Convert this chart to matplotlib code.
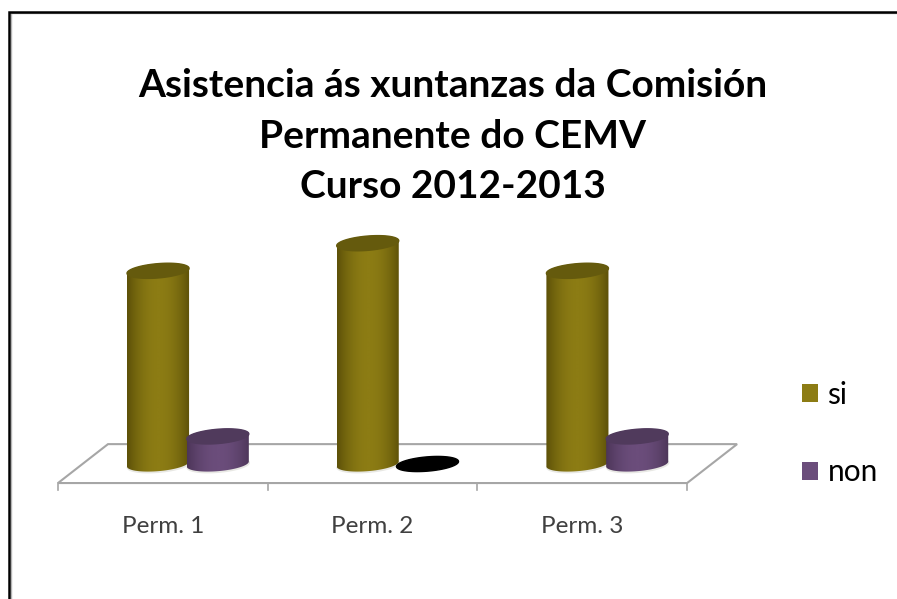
import matplotlib

matplotlib.use("Agg")
import matplotlib.pyplot as plt
import numpy as np
from matplotlib.colors import LinearSegmentedColormap
from matplotlib.patches import Patch, PathPatch, Polygon, Rectangle
from matplotlib.path import Path

categories = ["Perm. 1", "Perm. 2", "Perm. 3"]
si_values = [7, 8, 7]
non_values = [1, 0, 1]
title = "Asistencia ás xuntanzas da Comisión\nPermanente do CEMV\nCurso 2012-2013"

W, H = 897, 599
PX_X = 209.7  # pixels per category
PX_Y = 27.6  # pixels per unit
X0, Y0 = 58, 464  # pixel position of x=0, y=0

RX = 0.148  # cylinder radius
RY = 0.26
SHEAR = 0.09


def rim(cx, cy, t):
    return cx + RX * np.cos(t), cy + RY * np.sin(t) + SHEAR * np.cos(t)


def cylinder(ax, cx, value, light, dark, top):
    if value == 0:
        xs, ys = rim(cx, 0, np.linspace(0, 2 * np.pi, 80))
        ax.fill(xs, ys, color="black", zorder=4)
        return
    xb, yb = rim(cx, 0, np.linspace(np.pi, 2 * np.pi, 50))
    xt, yt = rim(cx, value, np.linspace(0, np.pi, 50))
    verts = np.column_stack([np.r_[xb, xt], np.r_[yb, yt]])
    body = PathPatch(Path(np.vstack([verts, verts[:1]])), fc="none", ec="none", zorder=3)
    ax.add_patch(body)

    # soft contact shadow under the base
    xs, ys = rim(cx, -0.02, np.linspace(0, 2 * np.pi, 80))
    ax.fill(xs + 0.002, ys - 0.02, color="#e8e8e4", zorder=2.5)

    grad = np.abs(np.linspace(-1, 1, 256)) ** 2
    im = ax.imshow(
        (1 - grad)[None, :],
        cmap=LinearSegmentedColormap.from_list("c2", [dark, light]),
        extent=[cx - RX, cx + RX, -1, value + 1],
        aspect="auto",
        zorder=3,
        interpolation="bilinear",
    )
    im.set_clip_path(body)

    xs, ys = rim(cx, value, np.linspace(0, 2 * np.pi, 80))
    ax.fill(xs, ys, color=top, zorder=3.5)


def main():
    fig = plt.figure(figsize=(W / 100, H / 100), dpi=100)
    ax = fig.add_axes([0, 0, 1, 1])
    ax.set_xlim(-X0 / PX_X, (W - X0) / PX_X)
    ax.set_ylim(-(H - Y0) / PX_Y, Y0 / PX_Y)
    ax.axis("off")

    font = ["Lato", "DejaVu Sans"]
    n = len(categories)

    # floor of the 3d plot
    front, back = -0.69, 0.72
    depth = 50 / PX_X
    ax.add_patch(
        Polygon(
            [(0, front), (n, front), (n + depth, back), (depth, back)],
            closed=True,
            fc="white",
            ec="#a6a6a6",
            lw=1.5,
            zorder=1,
        )
    )
    for i in range(n + 1):
        ax.plot([i, i], [front, front - 0.27], color="#a6a6a6", lw=1.2, zorder=1)

    for i in range(n):
        cylinder(ax, i + 0.477, si_values[i], "#8c7c14", "#5c5008", "#655a0d")
        cylinder(ax, i + 0.762, non_values[i], "#6b4d7b", "#4c3558", "#503a5c")
        ax.text(
            i + 0.5,
            -2.25,
            categories[i],
            ha="center",
            va="center",
            fontsize=17.5,
            family=font,
            color="#404040",
        )

    fig.text(
        0.505,
        1 - 136 / H,
        title,
        ha="center",
        va="center",
        fontsize=28,
        fontweight="bold",
        family=font,
        color="black",
        linespacing=1.55,
    )

    handles = [Patch(fc="#8c7c14", ec="none", label="si"), Patch(fc="#6b4d7b", ec="none", label="non")]
    ax.legend(
        handles=handles,
        loc="center left",
        bbox_to_anchor=(802 / W, 1 - 433.5 / H),
        bbox_transform=fig.transFigure,
        frameon=False,
        prop={"family": font, "size": 21.5},
        handlelength=0.55,
        handleheight=0.55,
        handletextpad=0.3,
        labelspacing=1.67,
        borderpad=0,
        borderaxespad=0,
    )

    # black frame round the picture, with the thin grey edge inside it
    fig.add_artist(Rectangle((11.4 / W, -0.01), 1, 1 - 13 / H + 0.01, transform=fig.transFigure,
                             fc="none", ec="#b4b4b4", lw=1.0))
    fig.add_artist(Rectangle((9.3 / W, -0.01), 1, 1 - 12 / H + 0.01, transform=fig.transFigure,
                             fc="none", ec="black", lw=1.8))

    fig.savefig("out.png", dpi=100)
    plt.close(fig)


if __name__ == "__main__":
    main()
